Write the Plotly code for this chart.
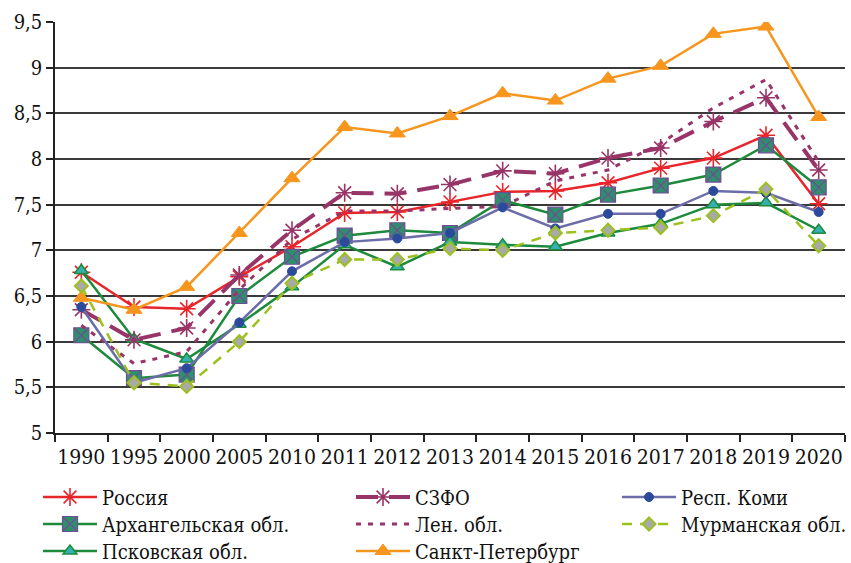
import plotly.graph_objects as go

years = ["1990", "1995", "2000", "2005", "2010", "2011", "2012", "2013",
         "2014", "2015", "2016", "2017", "2018", "2019", "2020"]

russia = [6.76, 6.38, 6.36, 6.71, 7.04, 7.41, 7.42, 7.53, 7.64, 7.65, 7.74, 7.90, 8.01, 8.26, 7.51]
szfo = [6.35, 6.02, 6.15, 6.73, 7.22, 7.63, 7.62, 7.72, 7.87, 7.84, 8.01, 8.12, 8.41, 8.67, 7.88]
komi = [6.38, 5.55, 5.71, 6.21, 6.77, 7.09, 7.13, 7.19, 7.47, 7.24, 7.40, 7.40, 7.65, 7.63, 7.42]
arkh = [6.07, 5.60, 5.64, 6.50, 6.93, 7.16, 7.22, 7.19, 7.55, 7.39, 7.61, 7.71, 7.83, 8.15, 7.69]
len_obl = [6.18, 5.76, 5.89, 6.57, 7.12, 7.43, 7.43, 7.46, 7.48, 7.76, 7.88, 8.17, 8.56, 8.87, 7.97]
murm = [6.61, 5.55, 5.51, 6.00, 6.64, 6.90, 6.90, 7.02, 7.00, 7.19, 7.22, 7.25, 7.38, 7.67, 7.05]
pskov = [6.78, 6.03, 5.81, 6.19, 6.60, 7.06, 6.82, 7.09, 7.06, 7.04, 7.19, 7.29, 7.50, 7.52, 7.22]
spb = [6.48, 6.35, 6.60, 7.19, 7.79, 8.35, 8.28, 8.47, 8.72, 8.64, 8.88, 9.02, 9.37, 9.45, 8.46]

y_ticks = [5, 5.5, 6, 6.5, 7, 7.5, 8, 8.5, 9, 9.5]
y_labels = ["5", "5,5", "6", "6,5", "7", "7,5", "8", "8,5", "9", "9,5"]

FONT = "'DejaVu Serif Condensed', 'DejaVu Serif', serif"
W, H = 851, 563

# legend grid: three columns, three rows (pixel positions of each entry)
col_x = [38, 351, 617]
row_y = [497, 524, 551]

fig = go.Figure()
legend_layout = {}


def add(name, values, color, width, dash, marker, cell):
    idx = len(fig.data) + 1
    key = "legend" if idx == 1 else f"legend{idx}"
    col, row = cell
    legend_layout[key] = dict(
        xref="container", yref="container", xanchor="left", yanchor="middle",
        x=col_x[col] / W, y=1 - row_y[row] / H, orientation="h",
        bgcolor="rgba(0,0,0,0)", itemwidth=54,
        font=dict(family=FONT, size=20, color="#111"),
    )
    fig.add_trace(go.Scatter(
        x=years, y=values, name=name, mode="lines+markers" if marker else "lines",
        line=dict(color=color, width=width, dash=dash),
        marker=marker or {}, legend=key,
    ))


add("Россия", russia, "#e8252a", 2.5, "solid",
    dict(symbol="asterisk-open", size=15, line=dict(color="#e8252a", width=1.6)), (0, 0))
add("Архангельская обл.", arkh, "#1d8a3c", 2.5, "solid",
    dict(symbol="square-x", size=15, color="#2e8f6c", line=dict(color="#6e4f94", width=1.2)), (0, 1))
add("Псковская обл.", pskov, "#1d8a3c", 2.5, "solid",
    dict(symbol="triangle-up", size=12, color="#35b0b0", line=dict(color="#1d8a3c", width=1.5)), (0, 2))
add("СЗФО", szfo, "#983568", 4, "22px,11px",
    dict(symbol="asterisk-open", size=15, line=dict(color="#983568", width=1.6)), (1, 0))
add("Лен. обл.", len_obl, "#983568", 3, "5px,7px", None, (1, 1))
add("Санкт-Петербург", spb, "#f7961f", 2.5, "solid",
    dict(symbol="triangle-up", size=14, color="#f7961f", line=dict(color="#f7961f", width=1)), (1, 2))
add("Респ. Коми", komi, "#6c6ca8", 2.5, "solid",
    dict(symbol="circle", size=9, color="#2c4a9c", line=dict(color="#2c4a9c", width=1)), (2, 0))
add("Мурманская обл.", murm, "#9cc01e", 2.5, "10px,8px",
    dict(symbol="diamond", size=10, color="#a9a9a9", line=dict(color="#9cc01e", width=2)), (2, 1))

fig.update_layout(
    width=W, height=H,
    margin=dict(l=55, r=6, t=22, b=130),
    paper_bgcolor="white", plot_bgcolor="white",
    font=dict(family=FONT, color="#111"),
    showlegend=True,
    xaxis=dict(
        type="category", tickson="boundaries", ticks="outside", ticklen=7,
        tickcolor="#222", tickwidth=1.5, showline=True, linecolor="#222", linewidth=1.5,
        showgrid=False, tickfont=dict(family=FONT, size=21, color="#111"),
        range=[-0.5, 14.5], tickangle=0, ticklabelstandoff=4,
    ),
    yaxis=dict(
        range=[5, 9.5], tickvals=y_ticks, ticktext=y_labels,
        ticks="outside", ticklen=7, tickcolor="#222", tickwidth=1.5,
        showline=True, linecolor="#222", linewidth=1.5,
        showgrid=True, gridcolor="#3a3a3a", gridwidth=1.5, zeroline=False,
        tickfont=dict(family=FONT, size=20, color="#111"),
    ),
    **legend_layout,
)

fig.write_html("out.html")
